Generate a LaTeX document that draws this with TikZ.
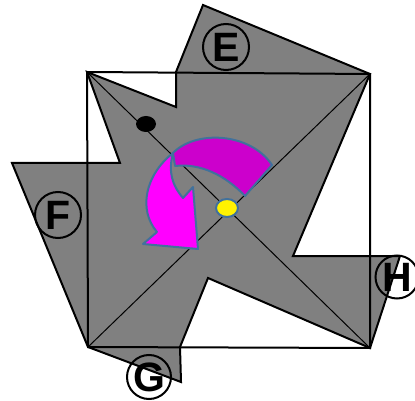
\documentclass[tikz,border=0pt]{standalone}
\usepackage{fontspec}
\setmainfont{Liberation Sans}
\usetikzlibrary{shapes.geometric}
\begin{document}
\begin{tikzpicture}[x=1pt,y=-1pt,
  grayshape/.style={fill=gray50, draw=black, line width=2pt, line join=miter},
  frame/.style={draw=black, line width=2pt},
  diag/.style={draw=black, line width=1pt},
  tag/.style={circle, draw=black, line width=2pt, minimum size=46pt, inner sep=0pt,
    font=\fontsize{41}{41}\selectfont\bfseries},
  arrowband/.style={draw=steel, line width=2pt, line join=round}]
\definecolor{gray50}{HTML}{808080}
\definecolor{steel}{HTML}{41719C}
\definecolor{dmag}{HTML}{CC00CC}
\definecolor{bmag}{HTML}{FF00FF}
\useasboundingbox (0,0) rectangle (415,401);
% main gray polygon
\path[grayshape] (87,72) -- (176,107) -- (176,72) -- (203,5) -- (370,74) -- (293,256)
  -- (400,256) -- (370,348) -- (208,278) -- (180,347) -- (181,382) -- (88,347)
  -- (12,163) -- (120,163) -- cycle;
% square corners
\coordinate (tl) at (87,72);
\coordinate (tr) at (370,74);
\coordinate (br) at (370,348);
\coordinate (bl) at (88,347);
\draw[frame] (tl) -- (tr) -- (br) -- (bl) -- cycle;
\draw[diag] (tl) -- (br);
\draw[diag] (tr) -- (bl);
% labels
\node[tag] (E) at (226,47) {E};
\node[tag] (F) at (58,215) {F};
\node[tag, minimum size=44pt] (G) at (149,377) {G};
\node[tag, minimum size=43pt] (H) at (397,277) {H};
% dots
\node[ellipse, fill=black, minimum width=20pt, minimum height=16pt, inner sep=0pt] (bd) at (146,124) {};
\node[ellipse, fill=yellow, draw=steel, line width=2pt, minimum width=22pt, minimum height=18pt, inner sep=0pt] (yd) at (227,208) {};
% dark magenta band
\path[arrowband, fill=dmag] (173,153) .. controls (195,130) and (250,132) .. (272,165)
  -- (245,196) .. controls (225,175) and (200,163) .. (175,166) -- cycle;
% bright magenta curved arrow
\path[arrowband, fill=bmag] (173,153) .. controls (145,175) and (138,210) .. (157,232)
  -- (143,244) -- (198,249) -- (193,187) -- (183,198)
  .. controls (172,185) and (168,172) .. (173,153) -- cycle;
\end{tikzpicture}
\end{document}
